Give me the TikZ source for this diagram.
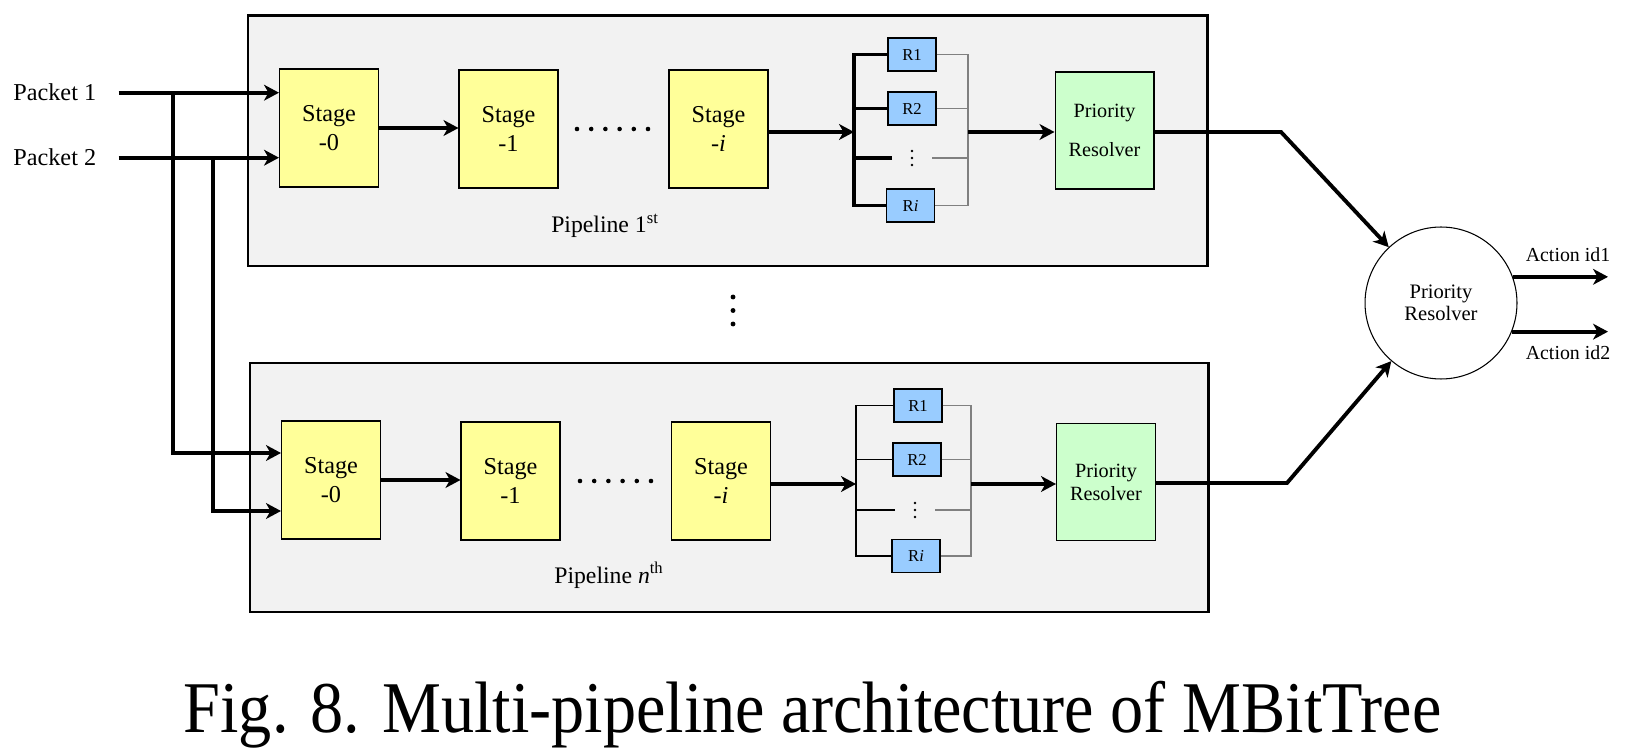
\documentclass[tikz,border=0pt]{standalone}
\usepackage{fontspec}
\setmainfont{Liberation Serif}
\usepackage{xcolor}
\definecolor{pipegray}{RGB}{242,242,242}
\definecolor{stageyellow}{RGB}{255,255,153}
\definecolor{regblue}{RGB}{153,204,255}
\definecolor{resgreen}{RGB}{204,255,204}
\definecolor{wiregray}{RGB}{128,128,128}
\usepackage{tikz}
\usetikzlibrary{calc}
\usetikzlibrary{arrows.meta}
\newcommand{\widthstage}{1.98cm}
\newcommand{\heightstage}{2.36cm}
\newcommand{\widthreg}{0.96cm}
\newcommand{\heightreg}{0.66cm}
\newcommand{\widthres}{1.98cm}
\newcommand{\heightres}{2.34cm}
\newcommand{\sizeres}{3.04cm}
\newcommand{\gapdots}{20}
\tikzset{
    common/.style={draw, rectangle, line width=0.6pt, inner sep=0pt, align=center},
    stage/.style={common, fill=stageyellow, minimum width=\widthstage, minimum height=\heightstage, font=\fontsize{13.8}{16.4}\selectfont},
    reg/.style={common, fill=regblue, minimum width=\widthreg, minimum height=\heightreg, font=\fontsize{9.5}{11}\selectfont},
    resolver/.style={common, fill=resgreen, minimum width=\widthres, minimum height=\heightres},
    bigresolver/.style={draw, circle, line width=0.6pt, minimum size=\sizeres, inner sep=0pt, align=center, font=\fontsize{11.7}{12.7}\selectfont},
    pipeline/.style={draw, line width=1.7pt, fill=pipegray},
    packet/.style={font=\fontsize{13.8}{16}\selectfont, inner sep=0pt},
    plabel/.style={anchor=base, font=\fontsize{13.5}{16}\selectfont},
    actlabel/.style={anchor=base, font=\fontsize{11.3}{13}\selectfont},
    wire/.style={line width=2.2pt},
    flow/.style={wire, -{Stealth[length=8.5pt, width=9pt, inset=2.5pt]}},
    thinwire/.style={line width=0.6pt},
    greywire/.style={line width=0.8pt, wiregray},
}

\begin{document}
\begin{tikzpicture}[x=0.02cm, y=-0.02cm]
\useasboundingbox (0,0) rectangle (1635,756);

% the two pipeline frames
\draw[pipeline] (248,16) rectangle (1207,266);
\draw[pipeline] (250,363) rectangle (1208,612);
\foreach \k in {297,310.5,324} \fill (733,\k) circle (1.4pt);

% inputs
\node[packet, anchor=base west] (P1) at (13,101) {Packet 1};
\node[packet, anchor=base west] (P2) at (13,166) {Packet 2};

% first pipeline
\path (329,128) node[stage] (S0A) {Stage\\-0}
    ++(179.5,1) node[stage] (S1A) {Stage\\-1}
    ++(210,0) node[stage] (SiA) {Stage\\-\textit{i}};
\foreach \k in {0,...,5} \fill (577+\k*14.2,129) circle (1.3pt);
\path (912,54.5) node[reg] (R1A) {R1}
    ++(0,54) node[reg] (R2A) {R2}
    ++(0,49.5) coordinate (RdA)
    ++(-1.5,47.5) node[reg] (RiA) {R\textit{i}};
\foreach \k in {-7,0,7} \fill ($(RdA)+(0,\k)$) circle (0.8pt);
\path (1104.5,130.5) node[resolver, font=\fontsize{11.5}{22}\selectfont] (PRA) {Priority\\Resolver};
\node[plabel] (LabA) at (605,233) {Pipeline 1\textsuperscript{st}};

% n-th pipeline
\path (331,480) node[stage] (S0B) {Stage\\-0}
    ++(179.5,1) node[stage] (S1B) {Stage\\-1}
    ++(210.5,0) node[stage] (SiB) {Stage\\-\textit{i}};
\foreach \k in {0,...,5} \fill (580+\k*14.2,481) circle (1.3pt);
\path (918,405.5) node[reg] (R1B) {R1}
    ++(-1,54) node[reg] (R2B) {R2}
    ++(-2,50.5) coordinate (RdB)
    ++(1,46) node[reg] (RiB) {R\textit{i}};
\foreach \k in {-7,0,7} \fill ($(RdB)+(0,\k)$) circle (0.8pt);
\path (1106,482) node[resolver, font=\fontsize{11.5}{13}\selectfont] (PRB) {Priority\\Resolver};
\node[plabel] (LabB) at (609,583) {Pipeline \textit{n}\textsuperscript{th}};

% final resolver
\node[bigresolver] (Big) at (1441,303) {Priority\\Resolver};
\node[actlabel] (Act1) at (1568,262) {Action id1};
\node[actlabel] (Act2) at (1568,360) {Action id2};

\coordinate (Tap1) at (P1 -| 173,0);
\coordinate (Tap2) at (P2 -| 213,0);
\coordinate (BusLA) at (854,132);
\coordinate (BusRA) at (968,132);
\coordinate (BusLB) at (856,484);
\coordinate (BusRB) at (971,484);
\coordinate (KneeA) at (1281,132);
\coordinate (KneeB) at (1287,483);
\coordinate (Out1) at (1608,277);
\coordinate (Out2) at (1608,331);

% packet feeds
\draw[flow] ($(P1.east)+(22,0)$) -- (P1 -| S0A.west);
\draw[flow] ($(P2.east)+(22,0)$) -- (P2 -| S0A.west);
\draw[flow] (Tap1) |- ($(S0B.west)+(0,-27)$);
\draw[flow] (Tap2) |- ($(S0B.west)+(0,31)$);

% first pipeline wiring
\draw[flow] (S0A.east) -- (S0A.east -| S1A.west);
\draw[flow] (SiA.east |- BusLA) -- (BusLA);
\draw[wire] (R1A.west) -| (BusLA) |- (RiA.west);
\draw[wire] (R2A.west) -- (R2A.west -| BusLA) ($(RdA)+(-\gapdots,0)$) -- (RdA -| BusLA);
\draw[greywire] (R1A.east) -| (BusRA) |- (RiA.east);
\draw[greywire] (R2A.east) -- (R2A.east -| BusRA) ($(RdA)+(\gapdots,0)$) -- (RdA -| BusRA);
\draw[flow] (BusRA) -- (BusRA -| PRA.west);

% n-th pipeline wiring
\draw[flow] (S0B.east) -- (S0B.east -| S1B.west);
\draw[flow] (SiB.east |- BusLB) -- (BusLB);
\draw[thinwire] (R1B.west) -| (BusLB) |- (RiB.west);
\draw[thinwire] (R2B.west) -- (R2B.west -| BusLB) ($(RdB)+(-\gapdots,0)$) -- (RdB -| BusLB);
\draw[greywire] (R1B.east) -| (BusRB) |- (RiB.east);
\draw[greywire] (R2B.east) -- (R2B.east -| BusRB) ($(RdB)+(\gapdots,0)$) -- (RdB -| BusRB);
\draw[flow] (BusRB) -- (BusRB -| PRB.west);

% to the final resolver
\draw[flow] (PRA.east |- KneeA) -- (KneeA) -- (Big);
\draw[flow] (PRB.east |- KneeB) -- (KneeB) -- (Big);
\draw[flow] (Big.20) -- (Big.20 -| Out1);
\draw[flow] (Big.-22) -- (Big.-22 -| Out2);

\node[anchor=base, font=\fontsize{37.7}{40}\selectfont, yscale=1.1] (Cap) at (812.5,732) {Fig. 8. Multi-pipeline architecture of MBitTree};
\end{tikzpicture}
\end{document}
